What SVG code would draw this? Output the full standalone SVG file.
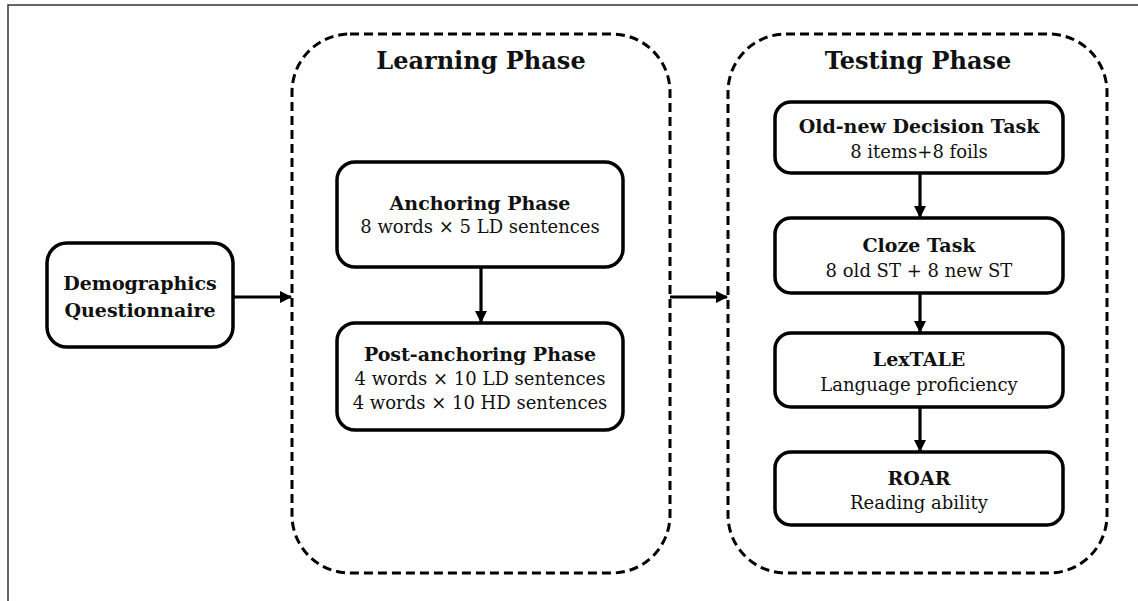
<svg xmlns="http://www.w3.org/2000/svg" width="1138" height="601" viewBox="0 0 1138 601">
<defs>
<marker id="ah" markerWidth="12" markerHeight="12" refX="11" refY="6" orient="auto" markerUnits="userSpaceOnUse">
<path d="M0,0 L12,6 L0,12 z" fill="#000"/>
</marker>
<style>
.frame{fill:none;stroke:#333;stroke-width:1.5}
.phase{fill:none;stroke:#000;stroke-width:3;stroke-dasharray:9,5}
.box{fill:#fff;stroke:#000;stroke-width:3.5}
.conn{fill:none;stroke:#000;stroke-width:3.2;marker-end:url(#ah)}
text{font-family:"DejaVu Serif","Liberation Serif",serif;fill:#111;text-anchor:middle}
.ph{font-size:24px;font-weight:bold}
.t{font-size:19px;font-weight:bold}
.b{font-size:18px}
</style>
</defs>
<path class="frame" d="M8,601 L8,5 L1138,5"/>
<g id="learning-phase">
<rect class="phase" x="292" y="34" width="378" height="539" rx="58" ry="58"/>
<text class="ph" x="481" y="69">Learning Phase</text>
</g>
<g id="testing-phase">
<rect class="phase" x="728" y="34" width="379" height="539" rx="58" ry="58"/>
<text class="ph" x="918" y="69">Testing Phase</text>
</g>
<g id="demographics">
<rect class="box" x="47" y="243" width="186" height="104" rx="20" ry="20"/>
<text class="t" x="140" y="290">Demographics</text>
<text class="t" x="140" y="317">Questionnaire</text>
</g>
<g id="anchoring">
<rect class="box" x="337" y="162" width="286" height="105" rx="18" ry="18"/>
<text class="t" x="480" y="210">Anchoring Phase</text>
<text class="b" x="480" y="233">8 words × 5 LD sentences</text>
</g>
<g id="post-anchoring">
<rect class="box" x="337" y="323" width="286" height="107" rx="18" ry="18"/>
<text class="t" x="480" y="361">Post-anchoring Phase</text>
<text class="b" x="480" y="385">4 words × 10 LD sentences</text>
<text class="b" x="480" y="409">4 words × 10 HD sentences</text>
</g>
<g id="old-new">
<rect class="box" x="775" y="102" width="288" height="71" rx="16" ry="16"/>
<text class="t" x="919" y="133">Old-new Decision Task</text>
<text class="b" x="919" y="158">8 items+8 foils</text>
</g>
<g id="cloze">
<rect class="box" x="775" y="218" width="288" height="75" rx="16" ry="16"/>
<text class="t" x="919" y="252">Cloze Task</text>
<text class="b" x="919" y="277">8 old ST + 8 new ST</text>
</g>
<g id="lextale">
<rect class="box" x="775" y="333" width="288" height="74" rx="16" ry="16"/>
<text class="t" x="919" y="366">LexTALE</text>
<text class="b" x="919" y="391">Language proficiency</text>
</g>
<g id="roar">
<rect class="box" x="775" y="452" width="288" height="73" rx="16" ry="16"/>
<text class="t" x="919" y="485">ROAR</text>
<text class="b" x="919" y="509">Reading ability</text>
</g>
<g id="connectors">
<line class="conn" x1="233" y1="297" x2="291" y2="297"/>
<line class="conn" x1="481" y1="267" x2="481" y2="322"/>
<line class="conn" x1="670" y1="297" x2="727" y2="297"/>
<line class="conn" x1="920" y1="173" x2="920" y2="217"/>
<line class="conn" x1="920" y1="293" x2="920" y2="332"/>
<line class="conn" x1="920" y1="407" x2="920" y2="451"/>
</g>
</svg>
